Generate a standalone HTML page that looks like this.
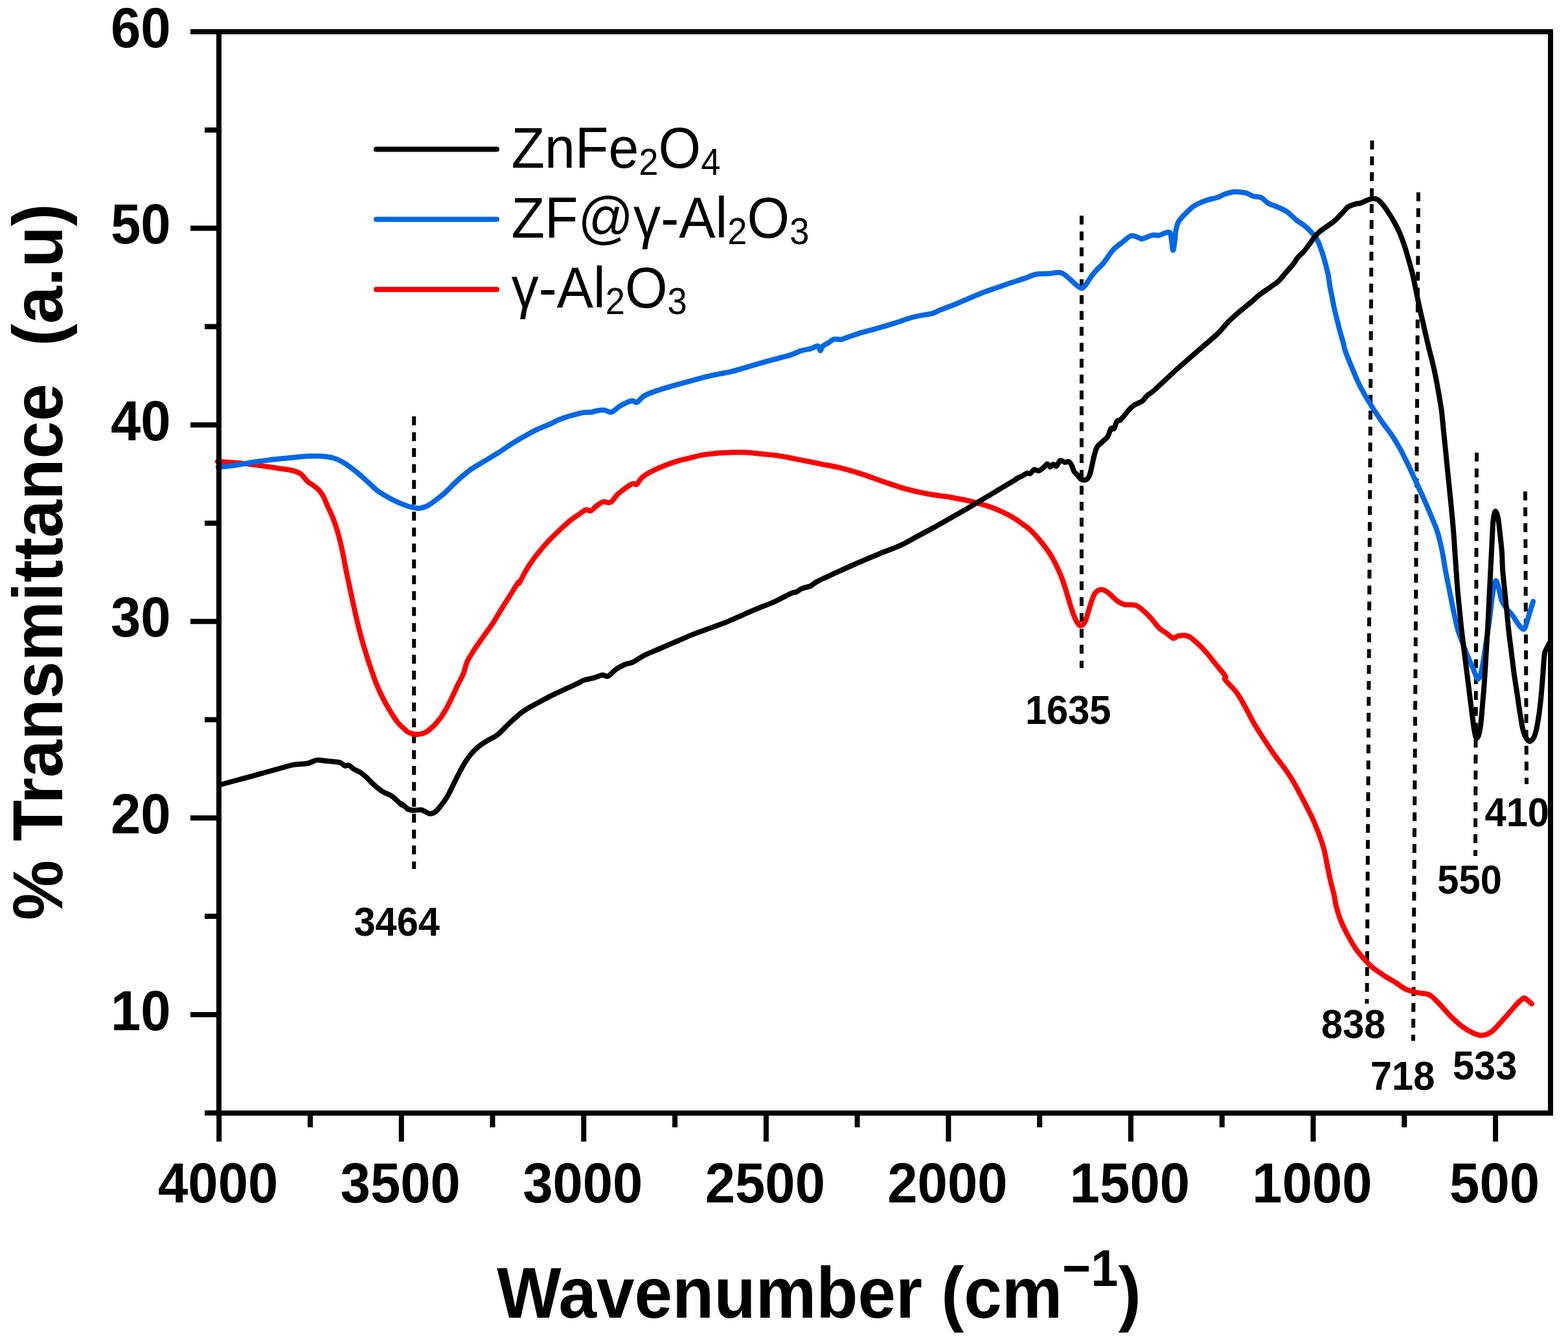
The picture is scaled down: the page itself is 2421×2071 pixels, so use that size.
<!DOCTYPE html>
<html><head><meta charset="utf-8"><title>FTIR spectra</title>
<style>
html,body{margin:0;padding:0;background:#fff;overflow:hidden;}
svg{display:block;}
text{font-family:"Liberation Sans",Arial,sans-serif;fill:#000;}
</style></head><body>
<svg xmlns="http://www.w3.org/2000/svg" width="2421" height="2071" viewBox="0 0 2421 2071">
<rect width="100%" height="100%" fill="#fff"/>
<line x1="639.2" y1="643.0" x2="639.2" y2="1342.0" stroke="#000" stroke-width="6" stroke-dasharray="13.7 10.85" fill="none"/>
<line x1="1670.0" y1="333.0" x2="1670.0" y2="1032.0" stroke="#000" stroke-width="6" stroke-dasharray="13.7 10.85" fill="none"/>
<line x1="2118.5" y1="217.0" x2="2110.5" y2="1550.0" stroke="#000" stroke-width="6" stroke-dasharray="13.7 10.85" fill="none"/>
<line x1="2190.0" y1="297.0" x2="2182.0" y2="1607.5" stroke="#000" stroke-width="6" stroke-dasharray="13.7 10.85" fill="none"/>
<line x1="2280.0" y1="699.0" x2="2278.0" y2="1322.0" stroke="#000" stroke-width="6" stroke-dasharray="13.7 10.85" fill="none"/>
<line x1="2355.0" y1="759.0" x2="2357.0" y2="1211.0" stroke="#000" stroke-width="6" stroke-dasharray="13.7 10.85" fill="none"/>
<path d="M337.8,713.0 C337.9,713.0 332.8,712.6 338.7,713.0 C344.6,713.4 362.8,714.5 373.4,715.5 C384.0,716.5 392.7,717.8 402.4,719.1 C412.1,720.4 422.9,722.1 431.4,723.4 C439.8,724.7 447.6,725.6 453.1,727.1 C458.7,728.6 461.1,729.3 464.7,732.1 C468.3,734.9 471.7,740.8 474.8,743.7 C477.9,746.6 480.6,747.3 483.5,749.5 C486.4,751.7 489.6,753.8 492.2,756.7 C494.8,759.6 497.2,763.0 499.4,766.9 C501.5,770.8 502.6,774.4 505.1,780.0 C507.6,785.6 511.3,792.8 514.2,800.3 C517.1,807.8 519.8,815.6 522.3,824.7 C524.8,833.9 527.5,845.7 529.5,855.2 C531.5,864.7 532.6,872.5 534.5,881.6 C536.4,890.7 538.6,900.5 540.6,910.0 C542.6,919.5 544.5,928.6 546.7,938.4 C548.9,948.2 551.4,959.4 553.8,968.9 C556.2,978.4 558.0,985.5 560.9,995.3 C563.8,1005.1 567.7,1017.6 571.1,1027.8 C574.5,1038.0 577.8,1047.7 581.2,1056.2 C584.6,1064.7 588.0,1071.8 591.4,1078.6 C594.8,1085.4 597.9,1090.8 601.6,1096.9 C605.3,1103.0 609.7,1110.0 613.7,1115.1 C617.8,1120.2 622.9,1124.6 625.9,1127.3 C628.9,1130.0 628.5,1130.2 631.6,1131.4 C634.7,1132.6 640.5,1134.2 644.6,1134.2 C648.7,1134.2 652.3,1133.3 656.2,1131.4 C660.1,1129.5 663.9,1126.3 667.8,1122.7 C671.7,1119.1 675.8,1114.4 679.4,1109.6 C683.0,1104.8 686.4,1099.2 689.5,1093.7 C692.6,1088.2 695.3,1082.3 698.2,1076.3 C701.1,1070.3 704.0,1063.5 706.9,1057.5 C709.8,1051.5 713.2,1046.1 715.6,1040.1 C718.0,1034.1 718.4,1028.2 721.4,1021.7 C724.4,1015.2 729.2,1008.2 733.6,1001.4 C738.0,994.6 743.1,987.9 747.8,981.1 C752.5,974.3 757.3,968.1 762.0,960.8 C766.7,953.5 771.8,944.5 776.2,937.4 C780.6,930.3 784.4,924.4 788.4,918.1 C792.4,911.8 797.7,902.8 800.0,899.8 C802.3,896.8 800.0,903.2 802.0,900.0 C804.0,896.8 808.6,886.8 812.3,880.6 C816.0,874.4 820.1,868.4 824.0,863.0 C827.9,857.6 831.6,853.2 835.7,848.3 C839.9,843.4 844.2,838.5 848.9,833.6 C853.5,828.7 858.5,823.9 863.6,819.0 C868.8,814.1 874.7,808.5 879.8,804.3 C884.9,800.1 890.2,796.8 894.4,794.0 C898.5,791.2 901.8,788.2 904.7,787.4 C907.6,786.5 909.3,789.9 912.0,788.9 C914.7,787.9 917.6,783.9 920.8,781.6 C924.0,779.3 927.4,776.0 931.1,775.0 C934.8,774.0 939.1,777.5 942.8,775.7 C946.5,773.9 949.4,767.5 953.1,764.0 C956.8,760.5 960.9,757.2 964.8,754.4 C968.7,751.6 973.5,748.2 976.6,747.1 C979.7,746.0 980.8,749.4 983.2,747.8 C985.6,746.2 987.2,741.0 991.2,737.6 C995.2,734.2 1001.0,730.6 1007.4,727.3 C1013.8,724.0 1022.1,720.6 1029.4,717.8 C1036.7,715.0 1046.3,711.9 1051.4,710.4 C1056.5,708.9 1054.7,709.9 1060.0,708.6 C1065.3,707.4 1075.5,704.3 1083.2,702.9 C1090.9,701.5 1098.6,700.7 1106.3,700.0 C1114.0,699.3 1121.8,699.0 1129.5,698.8 C1137.2,698.6 1145.0,698.4 1152.7,698.8 C1160.4,699.2 1168.1,700.3 1175.8,701.1 C1183.5,701.9 1191.3,702.3 1199.0,703.4 C1206.7,704.5 1214.5,706.0 1222.2,707.5 C1229.9,709.0 1237.6,710.6 1245.3,712.1 C1253.0,713.6 1259.4,715.0 1268.5,716.8 C1277.6,718.6 1289.5,720.5 1300.0,723.1 C1310.5,725.7 1320.6,728.9 1331.4,732.4 C1342.2,735.9 1353.8,740.4 1365.1,744.2 C1376.3,748.0 1387.6,752.1 1398.9,755.2 C1410.2,758.3 1421.4,760.7 1432.7,762.8 C1444.0,764.9 1455.2,765.8 1466.5,767.8 C1477.8,769.8 1489.0,771.8 1500.3,774.6 C1511.6,777.4 1524.2,781.0 1534.1,784.7 C1543.9,788.4 1551.8,792.4 1559.4,796.6 C1567.1,800.8 1574.8,806.5 1580.0,810.1 C1585.2,813.7 1586.6,814.3 1590.8,818.3 C1595.0,822.3 1600.4,828.2 1605.3,834.1 C1610.2,840.0 1615.9,847.4 1619.9,853.5 C1624.0,859.6 1626.4,864.0 1629.6,870.5 C1632.8,877.0 1636.5,885.0 1639.3,892.3 C1642.1,899.6 1644.2,906.5 1646.6,914.2 C1649.0,921.9 1651.5,931.1 1653.9,938.4 C1656.3,945.7 1658.8,953.2 1661.2,957.9 C1663.6,962.6 1666.0,966.2 1668.4,966.4 C1670.8,966.6 1673.3,964.2 1675.7,959.1 C1678.1,954.0 1680.6,943.1 1683.0,936.0 C1685.4,928.9 1687.5,920.9 1690.3,916.6 C1693.1,912.4 1696.8,910.9 1700.0,910.5 C1703.2,910.1 1705.7,911.4 1709.7,914.2 C1713.8,917.0 1719.8,924.3 1724.3,927.5 C1728.8,930.7 1731.6,932.4 1736.4,933.6 C1741.2,934.8 1748.6,933.2 1753.4,934.8 C1758.2,936.4 1761.5,939.9 1765.5,943.3 C1769.5,946.7 1773.7,950.9 1777.7,955.4 C1781.8,959.9 1785.8,966.1 1789.8,970.0 C1793.8,973.9 1798.2,975.9 1801.9,978.5 C1805.6,981.1 1808.9,985.2 1811.7,985.8 C1814.5,986.4 1815.3,982.7 1818.9,982.1 C1822.5,981.5 1829.0,980.7 1833.5,982.1 C1838.0,983.5 1840.8,986.4 1845.6,990.6 C1850.4,994.9 1857.3,1001.7 1862.6,1007.6 C1867.9,1013.5 1872.3,1019.7 1877.2,1025.8 C1882.1,1031.9 1889.2,1040.0 1891.7,1044.0 C1894.2,1048.0 1888.9,1045.7 1891.9,1050.0 C1894.9,1054.3 1904.3,1062.5 1909.6,1069.8 C1914.9,1077.0 1918.9,1085.3 1923.5,1093.5 C1928.1,1101.7 1932.7,1111.2 1937.3,1119.1 C1941.9,1127.0 1946.2,1133.3 1951.1,1140.9 C1956.0,1148.5 1961.3,1156.7 1966.9,1164.6 C1972.5,1172.5 1979.4,1180.7 1984.7,1188.3 C1990.0,1195.9 1993.9,1202.1 1998.5,1210.0 C2003.1,1217.9 2007.7,1226.8 2012.3,1235.7 C2016.9,1244.6 2022.2,1254.8 2026.2,1263.3 C2030.2,1271.8 2033.0,1279.1 2036.0,1287.0 C2039.0,1294.9 2041.8,1302.8 2044.0,1310.7 C2046.2,1318.6 2047.3,1326.5 2048.9,1334.4 C2050.5,1342.3 2052.0,1350.2 2053.8,1358.1 C2055.6,1366.0 2058.3,1375.4 2059.8,1381.9 C2061.3,1388.5 2061.0,1391.1 2062.6,1397.4 C2064.2,1403.8 2066.6,1412.5 2069.5,1420.0 C2072.4,1427.5 2076.2,1435.3 2080.0,1442.5 C2083.8,1449.7 2087.8,1457.0 2092.1,1463.4 C2096.4,1469.8 2101.4,1475.6 2106.0,1480.8 C2110.6,1486.0 2114.7,1490.4 2119.9,1494.7 C2125.1,1499.0 2131.5,1503.0 2137.3,1506.8 C2143.1,1510.6 2149.2,1513.8 2154.7,1517.3 C2160.2,1520.8 2164.8,1525.1 2170.3,1527.7 C2175.8,1530.3 2181.6,1531.5 2187.7,1532.9 C2193.8,1534.4 2201.0,1533.5 2206.8,1536.4 C2212.6,1539.3 2216.9,1544.8 2222.4,1550.3 C2227.9,1555.8 2234.0,1563.6 2239.8,1569.4 C2245.6,1575.2 2251.4,1580.7 2257.2,1585.0 C2263.0,1589.3 2269.4,1593.1 2274.6,1595.4 C2279.8,1597.7 2283.9,1599.2 2288.5,1598.9 C2293.1,1598.6 2297.8,1596.9 2302.4,1593.7 C2307.0,1590.5 2311.7,1584.7 2316.3,1579.8 C2320.9,1574.9 2325.9,1569.1 2330.2,1564.2 C2334.5,1559.3 2338.6,1554.1 2342.3,1550.3 C2346.1,1546.5 2350.1,1542.6 2352.7,1541.6 C2355.3,1540.6 2356.0,1542.8 2358.0,1544.2 C2360.0,1545.7 2363.8,1549.3 2364.9,1550.3" fill="none" stroke="#ff0000" stroke-width="8.0" stroke-linejoin="round" stroke-linecap="round"/>
<path d="M337.8,720.8 C337.9,720.9 335.2,721.6 338.7,721.3 C342.2,721.0 352.0,720.1 359.0,719.1 C366.0,718.1 373.5,716.7 380.7,715.5 C387.9,714.3 395.9,713.1 402.4,712.1 C408.9,711.1 412.6,710.5 419.8,709.7 C427.0,708.9 436.6,708.1 445.8,707.2 C455.0,706.4 466.4,705.0 474.8,704.6 C483.2,704.2 489.8,704.1 496.5,704.6 C503.2,705.1 509.7,705.9 515.3,707.5 C520.8,709.1 525.4,711.6 529.8,714.0 C534.1,716.4 537.3,719.0 541.4,722.0 C545.5,725.0 549.8,728.2 554.4,732.1 C559.0,736.0 564.1,740.9 568.9,745.2 C573.7,749.6 577.4,753.9 583.4,758.2 C589.4,762.5 599.0,767.9 605.1,771.2 C611.2,774.5 615.3,776.2 620.0,778.1 C624.7,780.0 629.0,781.7 633.5,782.8 C638.0,783.9 642.5,785.2 647.0,784.9 C651.5,784.6 656.0,783.0 660.5,780.8 C665.0,778.5 669.6,774.8 674.1,771.4 C678.6,768.0 683.1,764.6 687.6,760.5 C692.1,756.4 696.6,751.3 701.1,747.0 C705.6,742.7 710.1,738.7 714.6,734.9 C719.1,731.1 722.5,727.9 728.1,724.1 C733.7,720.3 741.6,716.0 748.4,711.9 C755.1,707.8 761.9,704.0 768.6,699.7 C775.4,695.4 782.1,690.5 788.9,686.2 C795.7,681.9 802.4,677.9 809.2,674.1 C816.0,670.3 822.7,666.5 829.5,663.2 C836.3,659.9 845.0,656.8 850.0,654.5 C855.0,652.2 856.5,651.2 859.7,649.7 C862.9,648.2 866.1,647.0 869.3,645.8 C872.5,644.6 875.8,643.5 879.0,642.5 C882.2,641.5 885.4,640.9 888.6,640.1 C891.8,639.3 895.1,638.2 898.3,637.6 C901.5,637.0 905.5,636.9 907.9,636.7 C910.3,636.6 910.7,637.0 912.7,636.7 C914.7,636.4 916.8,635.3 920.0,634.7 C923.2,634.1 929.2,633.3 932.0,633.3 C934.8,633.3 934.8,634.2 936.9,634.7 C939.0,635.2 941.1,637.6 944.6,636.3 C948.1,634.9 953.0,629.5 958.1,626.6 C963.2,623.7 971.3,619.8 975.5,618.9 C979.7,618.0 980.0,622.7 983.2,621.4 C986.4,620.1 989.6,614.2 994.8,611.2 C999.9,608.2 1006.1,606.1 1014.1,603.4 C1022.1,600.6 1031.8,597.9 1043.1,594.7 C1054.4,591.5 1072.0,586.7 1081.7,584.1 C1091.4,581.5 1093.1,581.0 1101.0,579.3 C1108.9,577.6 1119.5,576.2 1129.0,573.9 C1138.5,571.6 1148.2,568.4 1157.9,565.6 C1167.6,562.8 1176.6,560.1 1186.9,557.2 C1197.2,554.3 1211.7,551.0 1220.0,548.4 C1228.3,545.8 1231.7,543.2 1236.9,541.6 C1242.1,540.0 1247.3,539.9 1251.4,538.7 C1255.5,537.5 1259.3,534.8 1261.5,534.4 C1263.7,534.0 1263.6,535.4 1264.4,536.6 C1265.2,537.8 1265.8,541.6 1266.6,541.6 C1267.4,541.6 1268.2,537.9 1269.0,536.6 C1269.8,535.3 1269.7,535.0 1271.6,533.7 C1273.5,532.4 1277.6,530.2 1280.3,528.6 C1283.0,527.0 1284.4,524.7 1287.5,524.0 C1290.6,523.3 1295.5,524.8 1299.1,524.2 C1302.7,523.6 1304.0,522.4 1309.3,520.6 C1314.6,518.8 1323.8,515.6 1331.0,513.4 C1338.2,511.2 1344.2,510.0 1352.7,507.6 C1361.2,505.2 1372.1,501.9 1381.7,498.9 C1391.3,495.9 1400.9,492.0 1410.6,489.5 C1420.3,487.0 1433.4,485.5 1440.0,483.8 C1446.6,482.1 1443.7,481.9 1450.0,479.4 C1456.3,476.9 1466.7,473.1 1477.6,468.7 C1488.5,464.2 1502.8,457.6 1515.3,452.7 C1527.8,447.8 1541.9,443.3 1552.9,439.5 C1563.9,435.7 1573.4,432.8 1581.2,430.1 C1589.0,427.4 1593.7,424.8 1600.0,423.5 C1606.3,422.2 1613.1,423.1 1618.8,422.6 C1624.5,422.1 1630.1,420.7 1633.9,420.7 C1637.7,420.7 1638.6,421.0 1641.4,422.6 C1644.2,424.2 1647.7,427.4 1650.8,430.1 C1653.9,432.8 1657.1,436.1 1660.2,438.6 C1663.3,441.1 1666.8,445.2 1669.6,445.2 C1672.4,445.2 1674.7,441.6 1677.2,438.6 C1679.7,435.6 1681.9,431.1 1684.7,427.3 C1687.5,423.5 1691.0,419.4 1694.1,416.0 C1697.2,412.6 1700.4,410.4 1703.5,406.6 C1706.6,402.8 1710.1,397.2 1712.9,393.4 C1715.7,389.6 1717.0,387.3 1720.5,384.0 C1724.0,380.7 1729.2,376.9 1733.6,373.6 C1738.0,370.3 1742.4,365.1 1746.8,364.2 C1751.2,363.3 1757.2,367.2 1760.0,368.0 C1762.8,368.8 1760.6,369.7 1763.7,368.9 C1766.8,368.1 1774.4,364.2 1778.8,363.3 C1783.2,362.4 1786.6,364.0 1790.1,363.3 C1793.6,362.6 1797.2,360.0 1800.0,359.4 C1802.8,358.8 1805.1,357.3 1806.6,359.4 C1808.1,361.4 1808.2,367.2 1809.0,371.7 C1809.8,376.2 1810.4,386.5 1811.2,386.5 C1812.0,386.5 1813.2,376.9 1813.9,371.7 C1814.6,366.5 1814.6,360.2 1815.6,355.3 C1816.6,350.4 1817.4,346.3 1819.7,342.2 C1822.0,338.1 1825.4,334.8 1829.5,330.7 C1833.6,326.6 1838.8,321.2 1844.3,317.6 C1849.8,314.1 1856.7,311.4 1862.4,309.4 C1868.2,307.3 1873.9,306.9 1878.8,305.3 C1883.7,303.7 1887.2,301.0 1891.9,299.5 C1896.6,298.0 1901.5,296.6 1906.7,296.3 C1911.9,296.0 1918.4,296.8 1923.1,297.9 C1927.8,299.0 1930.5,301.6 1934.6,302.8 C1938.7,304.0 1943.9,303.5 1947.7,305.3 C1951.5,307.1 1954.0,311.3 1957.5,313.5 C1961.0,315.7 1964.3,316.3 1969.0,318.4 C1973.7,320.4 1980.8,322.9 1985.4,325.8 C1990.1,328.7 1993.9,333.0 1996.9,335.6 C1999.9,338.2 2000.8,339.3 2003.5,341.4 C2006.2,343.4 2010.0,345.3 2013.3,347.9 C2016.6,350.5 2019.8,353.3 2023.2,357.0 C2026.6,360.7 2030.6,364.8 2033.5,370.0 C2036.4,375.2 2038.7,382.1 2040.8,388.1 C2042.9,394.1 2044.6,400.1 2046.2,406.1 C2047.8,412.1 2049.5,418.2 2050.7,424.2 C2051.9,430.2 2052.3,436.2 2053.4,442.2 C2054.5,448.2 2055.8,454.3 2057.0,460.3 C2058.2,466.3 2059.2,472.4 2060.6,478.4 C2061.9,484.4 2063.6,490.4 2065.1,496.4 C2066.6,502.4 2068.2,508.9 2069.7,514.5 C2071.2,520.1 2073.0,525.5 2074.2,530.0 C2075.4,534.5 2075.1,536.3 2076.9,541.6 C2078.7,546.9 2081.9,554.5 2085.0,562.0 C2088.1,569.5 2091.8,578.8 2095.2,586.3 C2098.6,593.8 2101.7,599.9 2105.4,606.7 C2109.1,613.5 2112.9,619.5 2117.6,627.0 C2122.3,634.5 2128.4,643.6 2133.8,651.4 C2139.2,659.2 2145.3,666.6 2150.1,673.7 C2154.8,680.8 2158.2,686.6 2162.3,694.1 C2166.4,701.6 2170.4,710.0 2174.5,718.5 C2178.6,727.0 2182.6,736.1 2186.7,744.9 C2190.8,753.7 2194.8,762.1 2198.9,771.3 C2203.0,780.5 2208.0,792.7 2211.1,800.2 C2214.2,807.7 2215.5,810.0 2217.6,816.1 C2219.7,822.2 2221.8,829.8 2223.5,836.6 C2225.2,843.5 2226.6,850.0 2227.9,857.2 C2229.2,864.4 2229.9,870.9 2231.6,880.0 C2233.3,889.1 2235.8,901.1 2237.9,911.6 C2240.0,922.1 2242.1,933.2 2244.2,943.2 C2246.3,953.2 2248.2,963.2 2250.6,971.6 C2253.0,980.0 2255.9,986.6 2258.5,993.7 C2261.1,1000.8 2263.8,1008.0 2266.4,1014.3 C2269.0,1020.6 2271.8,1026.2 2274.2,1031.7 C2276.6,1037.2 2278.8,1045.4 2280.6,1047.5 C2282.4,1049.6 2283.7,1048.5 2285.3,1044.3 C2286.9,1040.1 2288.4,1031.2 2290.0,1022.2 C2291.6,1013.2 2293.2,1001.1 2294.8,990.6 C2296.4,980.1 2297.9,970.9 2299.5,959.0 C2301.1,947.1 2302.7,929.8 2304.3,919.5 C2305.9,909.2 2307.4,899.5 2309.0,897.4 C2310.6,895.3 2312.1,901.9 2313.7,906.9 C2315.3,911.9 2316.4,921.9 2318.5,927.4 C2320.6,932.9 2323.5,936.0 2326.4,940.0 C2329.3,944.0 2332.8,946.9 2335.9,951.1 C2339.1,955.3 2342.4,961.9 2345.3,965.3 C2348.2,968.7 2351.1,972.6 2353.2,971.6 C2355.3,970.6 2356.4,963.7 2358.0,959.0 C2359.6,954.3 2361.2,947.9 2362.7,943.2 C2364.1,938.5 2366.0,933.0 2366.7,930.6 C2367.4,928.2 2367.0,929.2 2367.1,928.9" fill="none" stroke="#0067e5" stroke-width="8.0" stroke-linejoin="round" stroke-linecap="round"/>
<path d="M341.6,1211.5 C346.9,1210.0 363.3,1205.6 373.4,1202.8 C383.5,1200.0 392.7,1197.6 402.4,1194.9 C412.1,1192.2 422.9,1189.2 431.4,1186.9 C439.8,1184.6 445.9,1182.4 453.1,1181.1 C460.3,1179.8 468.8,1180.2 474.8,1179.0 C480.8,1177.8 484.5,1174.5 489.3,1173.9 C494.1,1173.3 497.9,1174.7 503.7,1175.3 C509.5,1175.9 519.2,1176.3 524.0,1177.5 C528.8,1178.7 530.3,1181.9 532.7,1182.6 C535.1,1183.3 536.1,1180.9 538.5,1181.9 C540.9,1182.9 544.1,1186.5 547.2,1188.4 C550.3,1190.3 553.9,1191.1 557.3,1193.4 C560.7,1195.7 564.4,1199.2 567.5,1202.1 C570.6,1205.0 572.2,1207.4 576.1,1210.8 C580.0,1214.2 585.8,1219.3 590.6,1222.4 C595.4,1225.5 600.3,1226.2 605.1,1229.6 C609.9,1233.0 617.1,1240.7 619.6,1242.7 C622.1,1244.7 618.5,1240.4 620.0,1241.4 C621.5,1242.4 627.0,1247.2 628.7,1248.6 C630.4,1250.0 628.3,1249.4 630.0,1249.9 C631.7,1250.4 635.4,1251.3 638.8,1251.5 C642.2,1251.7 646.3,1250.0 650.4,1250.8 C654.5,1251.6 659.8,1256.1 663.4,1256.6 C667.0,1257.1 669.2,1255.8 672.1,1253.7 C675.0,1251.7 677.7,1248.3 680.8,1244.3 C683.9,1240.3 687.8,1235.1 690.9,1229.8 C694.0,1224.5 696.7,1218.2 699.6,1212.4 C702.5,1206.6 705.4,1200.6 708.3,1195.1 C711.2,1189.5 713.9,1184.2 717.0,1179.1 C720.1,1174.0 723.5,1169.0 727.1,1164.7 C730.7,1160.4 734.8,1156.4 738.7,1153.1 C742.6,1149.8 745.9,1147.8 750.3,1145.1 C754.6,1142.4 760.9,1139.6 764.8,1137.1 C768.7,1134.6 769.9,1133.3 773.5,1129.9 C777.1,1126.5 781.9,1121.2 786.5,1116.9 C791.1,1112.6 796.2,1107.7 801.0,1103.8 C805.8,1099.9 810.7,1096.7 815.5,1093.7 C820.3,1090.7 823.9,1089.0 829.9,1085.7 C835.9,1082.5 844.5,1077.8 851.7,1074.2 C859.0,1070.6 866.2,1067.4 873.4,1064.0 C880.6,1060.6 890.7,1056.1 895.1,1053.9 C899.5,1051.7 896.4,1052.2 900.0,1051.0 C903.6,1049.8 911.8,1048.2 916.9,1046.8 C922.0,1045.4 926.7,1043.0 930.4,1042.6 C934.1,1042.2 935.5,1045.7 938.9,1044.3 C942.3,1042.9 946.5,1037.1 950.7,1034.1 C954.9,1031.1 959.7,1028.5 964.2,1026.5 C968.7,1024.5 972.6,1024.7 977.7,1022.3 C982.8,1019.9 987.9,1015.6 994.6,1012.2 C1001.4,1008.8 1010.0,1005.5 1018.2,1002.0 C1026.4,998.5 1035.1,994.6 1043.6,991.0 C1052.0,987.4 1060.5,983.5 1068.9,980.1 C1077.4,976.7 1085.8,973.9 1094.3,970.8 C1102.8,967.7 1111.2,964.9 1119.6,961.5 C1128.0,958.1 1136.5,954.2 1144.9,950.5 C1153.4,946.8 1161.8,943.0 1170.3,939.5 C1178.8,936.0 1187.2,933.2 1195.6,929.4 C1204.0,925.6 1215.2,919.3 1220.9,916.7 C1226.6,914.1 1227.2,915.3 1230.0,914.0 C1232.8,912.7 1234.5,910.5 1237.8,909.1 C1241.1,907.7 1247.6,906.4 1250.0,905.7 C1252.4,905.0 1250.0,906.0 1252.0,904.7 C1254.0,903.4 1255.9,901.1 1262.1,897.9 C1268.3,894.6 1279.0,889.9 1289.1,885.2 C1299.2,880.6 1311.6,874.9 1322.9,870.0 C1334.2,865.1 1345.4,860.3 1356.7,855.7 C1368.0,851.1 1380.7,846.7 1390.5,842.2 C1400.3,837.7 1407.4,833.1 1415.8,828.6 C1424.2,824.1 1432.6,819.7 1441.1,815.1 C1449.5,810.5 1458.0,805.6 1466.5,800.8 C1475.0,796.0 1483.3,791.3 1491.8,786.4 C1500.2,781.5 1508.8,776.3 1517.2,771.2 C1525.7,766.1 1534.1,761.1 1542.5,756.0 C1550.9,750.9 1563.3,743.6 1567.8,740.8 C1572.3,738.0 1567.8,739.9 1569.5,739.0 C1571.2,738.1 1576.0,736.2 1577.8,735.4 C1579.5,734.6 1578.6,734.9 1580.0,734.1 C1581.4,733.3 1584.3,731.2 1586.1,730.7 C1587.9,730.2 1589.0,732.2 1590.8,731.3 C1592.6,730.4 1594.5,726.0 1596.7,725.3 C1598.9,724.6 1601.3,727.8 1603.9,727.1 C1606.5,726.4 1609.9,723.0 1612.1,721.2 C1614.3,719.4 1615.3,716.4 1616.9,716.4 C1618.5,716.4 1620.0,721.1 1621.6,721.2 C1623.2,721.3 1624.8,717.2 1626.4,717.0 C1628.0,716.8 1629.3,721.0 1631.1,720.0 C1632.9,719.0 1634.8,712.1 1637.0,711.1 C1639.2,710.1 1641.9,713.8 1644.1,714.1 C1646.3,714.4 1648.3,712.1 1650.1,712.9 C1651.9,713.7 1653.4,716.2 1654.8,718.8 C1656.2,721.4 1657.0,725.9 1658.4,728.3 C1659.8,730.7 1661.3,731.0 1663.1,733.0 C1664.9,735.0 1666.6,738.8 1669.0,740.1 C1671.4,741.4 1675.1,741.7 1677.3,740.7 C1679.5,739.7 1680.7,737.5 1682.1,734.2 C1683.5,731.0 1684.4,726.1 1685.6,721.2 C1686.8,716.3 1687.8,709.7 1689.2,704.6 C1690.6,699.5 1691.7,694.1 1693.9,690.4 C1696.1,686.6 1699.4,684.9 1702.2,682.1 C1705.0,679.3 1708.3,677.2 1710.5,673.8 C1712.7,670.4 1713.7,663.9 1715.3,661.9 C1716.9,659.9 1718.4,663.9 1720.0,661.9 C1721.6,659.9 1723.1,652.3 1724.7,650.1 C1726.3,647.9 1727.3,650.7 1729.5,648.9 C1731.7,647.1 1735.4,642.2 1737.8,639.4 C1740.2,636.6 1741.3,634.7 1743.7,632.3 C1746.1,629.9 1748.6,627.4 1752.0,625.2 C1755.4,623.0 1760.7,621.7 1763.9,619.3 C1767.1,616.9 1768.3,613.5 1771.0,611.0 C1773.7,608.5 1775.5,608.4 1780.0,604.5 C1784.5,600.6 1792.1,593.4 1798.1,587.8 C1804.1,582.2 1810.1,576.5 1816.1,571.1 C1822.1,565.7 1828.2,560.6 1834.2,555.3 C1840.2,550.0 1844.7,546.0 1852.2,539.5 C1859.7,533.0 1871.8,523.2 1879.3,516.0 C1886.8,508.8 1891.4,502.1 1897.4,496.1 C1903.4,490.1 1909.1,485.3 1915.4,479.9 C1921.7,474.5 1930.5,467.7 1935.3,463.6 C1940.1,459.5 1940.2,458.7 1944.4,455.4 C1948.7,452.1 1955.9,447.4 1960.8,443.9 C1965.7,440.3 1969.8,437.9 1973.9,434.1 C1978.0,430.3 1981.6,425.4 1985.4,421.0 C1989.2,416.6 1993.9,411.6 1996.9,407.8 C1999.9,404.0 2000.8,401.3 2003.5,398.0 C2006.2,394.7 2010.0,391.9 2013.3,388.1 C2016.6,384.3 2019.9,379.4 2023.2,375.0 C2026.5,370.6 2029.7,365.4 2033.0,361.9 C2036.3,358.3 2038.5,357.0 2042.9,353.7 C2047.3,350.4 2054.7,346.0 2059.3,342.2 C2064.0,338.4 2067.0,334.5 2070.8,330.7 C2074.6,326.9 2078.1,321.9 2082.2,319.2 C2086.3,316.5 2092.4,315.2 2095.4,314.3 C2098.4,313.4 2096.4,315.1 2100.0,313.9 C2103.6,312.7 2112.4,308.1 2116.9,307.1 C2121.4,306.2 2123.9,306.5 2127.1,308.2 C2130.3,309.9 2132.7,312.9 2136.1,317.2 C2139.5,321.5 2143.6,328.0 2147.4,334.2 C2151.2,340.4 2155.3,347.4 2158.7,354.5 C2162.1,361.6 2165.1,369.6 2167.7,377.1 C2170.3,384.6 2172.2,391.7 2174.5,399.6 C2176.8,407.5 2179.2,415.8 2181.3,424.5 C2183.4,433.2 2185.0,442.6 2186.9,451.6 C2188.8,460.6 2190.5,469.2 2192.6,478.6 C2194.7,488.0 2197.1,498.2 2199.3,508.0 C2201.6,517.8 2203.8,527.9 2206.1,537.3 C2208.4,546.7 2210.8,555.4 2212.9,564.4 C2215.0,573.4 2216.5,580.9 2218.5,591.5 C2220.5,602.1 2223.6,620.2 2224.9,628.3 C2226.2,636.4 2225.7,633.2 2226.4,640.0 C2227.1,646.8 2228.3,659.5 2229.3,669.3 C2230.3,679.1 2231.3,688.9 2232.3,698.7 C2233.3,708.5 2234.2,718.2 2235.2,728.0 C2236.2,737.8 2237.2,747.6 2238.2,757.4 C2239.2,767.2 2240.1,775.9 2241.1,786.7 C2242.1,797.5 2243.5,811.5 2244.3,822.0 C2245.2,832.5 2245.5,840.3 2246.2,850.0 C2246.9,859.7 2247.6,869.7 2248.3,880.0 C2249.0,890.3 2249.7,901.1 2250.6,911.6 C2251.5,922.1 2252.6,932.7 2253.7,943.2 C2254.8,953.7 2255.7,964.3 2256.9,974.8 C2258.1,985.3 2259.5,995.9 2260.8,1006.4 C2262.1,1016.9 2263.5,1027.5 2264.8,1038.0 C2266.1,1048.5 2267.4,1059.1 2268.7,1069.6 C2270.0,1080.1 2271.5,1092.0 2272.7,1101.2 C2273.9,1110.4 2274.8,1118.6 2275.8,1124.9 C2276.9,1131.2 2277.8,1137.3 2279.0,1139.1 C2280.2,1140.9 2281.7,1139.1 2282.9,1135.9 C2284.1,1132.7 2285.0,1128.5 2286.1,1120.1 C2287.2,1111.7 2288.2,1097.8 2289.3,1085.4 C2290.4,1073.0 2291.5,1059.1 2292.4,1045.9 C2293.3,1032.7 2294.0,1019.6 2294.8,1006.4 C2295.6,993.2 2296.3,983.0 2297.2,966.9 C2298.1,950.8 2299.3,924.5 2300.0,910.0 C2300.7,895.5 2301.0,890.0 2301.5,880.0 C2302.0,870.0 2302.5,859.5 2303.0,850.0 C2303.5,840.5 2303.9,830.8 2304.3,823.0 C2304.7,815.2 2304.9,808.5 2305.6,803.0 C2306.3,797.5 2307.4,790.2 2308.6,789.7 C2309.8,789.2 2311.8,794.3 2313.0,799.9 C2314.2,805.5 2314.9,814.6 2315.9,823.4 C2316.9,832.2 2318.2,843.4 2318.9,852.8 C2319.6,862.2 2319.4,870.2 2320.1,880.0 C2320.8,889.8 2322.1,901.1 2323.2,911.6 C2324.2,922.1 2325.3,932.7 2326.4,943.2 C2327.5,953.7 2328.3,964.3 2329.5,974.8 C2330.7,985.3 2332.2,995.9 2333.5,1006.4 C2334.8,1016.9 2336.0,1027.5 2337.4,1038.0 C2338.8,1048.5 2340.6,1059.1 2342.2,1069.6 C2343.8,1080.1 2345.3,1091.5 2346.9,1101.2 C2348.5,1110.9 2349.8,1121.2 2351.7,1128.0 C2353.5,1134.8 2355.9,1139.6 2358.0,1142.2 C2360.1,1144.8 2362.2,1145.4 2364.3,1143.8 C2366.4,1142.2 2368.8,1138.6 2370.6,1132.8 C2372.4,1127.0 2373.9,1118.3 2375.4,1109.1 C2376.9,1099.9 2378.1,1089.3 2379.3,1077.5 C2380.5,1065.7 2381.6,1049.3 2382.5,1038.0 C2383.4,1026.7 2383.9,1015.6 2384.8,1009.5 C2385.7,1003.4 2386.8,1004.2 2388.0,1001.6 C2389.2,999.0 2391.2,995.0 2391.9,993.7" fill="none" stroke="#000" stroke-width="8.0" stroke-linejoin="round" stroke-linecap="round"/>
<rect x="338" y="49" width="2056" height="1670" fill="none" stroke="#000" stroke-width="8"/>
<line x1="316.0" y1="1718.8" x2="334" y2="1718.8" stroke="#000" stroke-width="8"/>
<line x1="294.0" y1="1566.9" x2="334" y2="1566.9" stroke="#000" stroke-width="8"/>
<line x1="316.0" y1="1415.1" x2="334" y2="1415.1" stroke="#000" stroke-width="8"/>
<line x1="294.0" y1="1263.3" x2="334" y2="1263.3" stroke="#000" stroke-width="8"/>
<line x1="316.0" y1="1111.5" x2="334" y2="1111.5" stroke="#000" stroke-width="8"/>
<line x1="294.0" y1="959.8" x2="334" y2="959.8" stroke="#000" stroke-width="8"/>
<line x1="316.0" y1="808.0" x2="334" y2="808.0" stroke="#000" stroke-width="8"/>
<line x1="294.0" y1="656.2" x2="334" y2="656.2" stroke="#000" stroke-width="8"/>
<line x1="316.0" y1="504.4" x2="334" y2="504.4" stroke="#000" stroke-width="8"/>
<line x1="294.0" y1="352.6" x2="334" y2="352.6" stroke="#000" stroke-width="8"/>
<line x1="316.0" y1="200.8" x2="334" y2="200.8" stroke="#000" stroke-width="8"/>
<line x1="294.0" y1="49.0" x2="334" y2="49.0" stroke="#000" stroke-width="8"/>
<line x1="338.2" y1="1723" x2="338.2" y2="1763.0" stroke="#000" stroke-width="8"/>
<line x1="479.0" y1="1723" x2="479.0" y2="1741.0" stroke="#000" stroke-width="8"/>
<line x1="619.8" y1="1723" x2="619.8" y2="1763.0" stroke="#000" stroke-width="8"/>
<line x1="760.5" y1="1723" x2="760.5" y2="1741.0" stroke="#000" stroke-width="8"/>
<line x1="901.3" y1="1723" x2="901.3" y2="1763.0" stroke="#000" stroke-width="8"/>
<line x1="1042.1" y1="1723" x2="1042.1" y2="1741.0" stroke="#000" stroke-width="8"/>
<line x1="1182.9" y1="1723" x2="1182.9" y2="1763.0" stroke="#000" stroke-width="8"/>
<line x1="1323.6" y1="1723" x2="1323.6" y2="1741.0" stroke="#000" stroke-width="8"/>
<line x1="1464.4" y1="1723" x2="1464.4" y2="1763.0" stroke="#000" stroke-width="8"/>
<line x1="1605.2" y1="1723" x2="1605.2" y2="1741.0" stroke="#000" stroke-width="8"/>
<line x1="1746.0" y1="1723" x2="1746.0" y2="1763.0" stroke="#000" stroke-width="8"/>
<line x1="1886.8" y1="1723" x2="1886.8" y2="1741.0" stroke="#000" stroke-width="8"/>
<line x1="2027.5" y1="1723" x2="2027.5" y2="1763.0" stroke="#000" stroke-width="8"/>
<line x1="2168.3" y1="1723" x2="2168.3" y2="1741.0" stroke="#000" stroke-width="8"/>
<line x1="2309.1" y1="1723" x2="2309.1" y2="1763.0" stroke="#000" stroke-width="8"/>
<line x1="581" y1="230.4" x2="767" y2="230.4" stroke="#000" stroke-width="8" stroke-linecap="round"/>
<line x1="581" y1="338.8" x2="767" y2="338.8" stroke="#0067e5" stroke-width="8" stroke-linecap="round"/>
<line x1="581" y1="446.9" x2="767" y2="446.9" stroke="#ff0000" stroke-width="8" stroke-linecap="round"/>
<text transform="translate(263.58,1590.63) scale(0.9520,1)" font-size="87.50" font-weight="bold" text-anchor="end">10</text>
<text transform="translate(263.58,1287.05) scale(0.9520,1)" font-size="87.50" font-weight="bold" text-anchor="end">20</text>
<text transform="translate(263.58,983.47) scale(0.9520,1)" font-size="87.50" font-weight="bold" text-anchor="end">30</text>
<text transform="translate(263.58,679.89) scale(0.9520,1)" font-size="87.50" font-weight="bold" text-anchor="end">40</text>
<text transform="translate(263.58,376.31) scale(0.9520,1)" font-size="87.50" font-weight="bold" text-anchor="end">50</text>
<text transform="translate(263.58,72.72) scale(0.9520,1)" font-size="87.50" font-weight="bold" text-anchor="end">60</text>
<text transform="translate(336.66,1857.03) scale(0.9630,1)" font-size="86.50" font-weight="bold" text-anchor="middle">4000</text>
<text transform="translate(618.22,1857.03) scale(0.9630,1)" font-size="86.50" font-weight="bold" text-anchor="middle">3500</text>
<text transform="translate(899.77,1857.03) scale(0.9630,1)" font-size="86.50" font-weight="bold" text-anchor="middle">3000</text>
<text transform="translate(1181.33,1857.03) scale(0.9630,1)" font-size="86.50" font-weight="bold" text-anchor="middle">2500</text>
<text transform="translate(1462.88,1857.03) scale(0.9630,1)" font-size="86.50" font-weight="bold" text-anchor="middle">2000</text>
<text transform="translate(1744.44,1857.03) scale(0.9630,1)" font-size="86.50" font-weight="bold" text-anchor="middle">1500</text>
<text transform="translate(2025.99,1857.03) scale(0.9630,1)" font-size="86.50" font-weight="bold" text-anchor="middle">1000</text>
<text transform="translate(2307.55,1857.03) scale(0.9630,1)" font-size="86.50" font-weight="bold" text-anchor="middle">500</text>
<text transform="translate(789.50,259.10) scale(0.9540,1)" font-size="88.40" text-anchor="start">ZnFe<tspan font-size="57.00" dy="10.40">2</tspan><tspan dy="-10.40">O</tspan><tspan font-size="57.00" dy="10.40">4</tspan></text>
<text transform="translate(789.50,366.70) scale(0.9540,1)" font-size="88.40" text-anchor="start">ZF@γ-Al<tspan font-size="57.00" dy="10.40">2</tspan><tspan dy="-10.40">O</tspan><tspan font-size="57.00" dy="10.40">3</tspan></text>
<text transform="translate(789.50,475.00) scale(0.9540,1)" font-size="88.40" text-anchor="start">γ-Al<tspan font-size="57.00" dy="10.40">2</tspan><tspan dy="-10.40">O</tspan><tspan font-size="57.00" dy="10.40">3</tspan></text>
<text transform="translate(612.70,1444.90) scale(0.9360,1)" font-size="63.70" font-weight="bold" text-anchor="middle">3464</text>
<text transform="translate(1649.20,1117.90) scale(0.9360,1)" font-size="63.70" font-weight="bold" text-anchor="middle">1635</text>
<text transform="translate(2089.80,1603.20) scale(0.9360,1)" font-size="63.70" font-weight="bold" text-anchor="middle">838</text>
<text transform="translate(2165.70,1683.40) scale(0.9360,1)" font-size="63.70" font-weight="bold" text-anchor="middle">718</text>
<text transform="translate(2292.70,1667.20) scale(0.9360,1)" font-size="63.70" font-weight="bold" text-anchor="middle">533</text>
<text transform="translate(2269.10,1379.60) scale(0.9360,1)" font-size="63.70" font-weight="bold" text-anchor="middle">550</text>
<text transform="translate(2342.30,1275.50) scale(0.9360,1)" font-size="63.70" font-weight="bold" text-anchor="middle">410</text>
<text transform="translate(767.13,2034.90) scale(0.9430,1)" font-size="111.60" font-weight="bold" text-anchor="start">Wavenumber (cm<tspan font-size="80.00" dx="0.00" dy="-48.90">−1</tspan><tspan dx="0.50" dy="48.90">)</tspan></text>
<text transform="translate(95.70,1421.00) rotate(-90) scale(0.9600,1)" font-size="108.60" font-weight="bold" text-anchor="start">% Transmittance&#160; (a.u)</text>
</svg>
</body></html>
